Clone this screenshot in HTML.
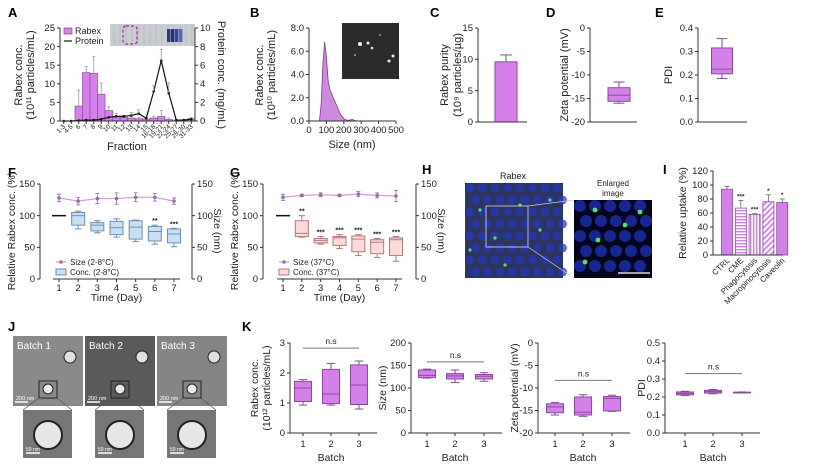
<!DOCTYPE html>
<html><head><meta charset="utf-8"><style>
html,body{margin:0;padding:0;background:#fff;}
svg{display:block;font-family:"Liberation Sans",Arial,sans-serif;}
</style></head><body>
<svg id="fig" width="817" height="468" viewBox="0 0 817 468" xmlns="http://www.w3.org/2000/svg">
<defs>
<pattern id="hstripe" width="4" height="3" patternUnits="userSpaceOnUse"><rect width="4" height="3" fill="#fff"/><rect width="4" height="1.4" fill="#d580ea"/></pattern>
<pattern id="vstripe" width="3" height="4" patternUnits="userSpaceOnUse"><rect width="3" height="4" fill="#fff"/><rect width="1.4" height="4" fill="#d580ea"/></pattern>
<pattern id="dstripe" width="4" height="4" patternUnits="userSpaceOnUse" patternTransform="rotate(45)"><rect width="4" height="4" fill="#fff"/><rect width="1.8" height="4" fill="#d580ea"/></pattern>
</defs>
</svg>
<script>
// ---------- data ----------
const aCats=["1-3","4-5","6","7","8","9","10","11","12","13","14","15","16-18","19-21","22-24","25-27","28-30","31-33"];
const aRabex=[0,0,4,13,12.8,7.2,2.8,1.3,1.0,0.8,0.6,0.5,0.8,1.2,0.4,0.1,0.2,0.6];
const aRabexErr=[0,0,8.3,14.7,17.3,10.2,3.8,2.0,1.5,1.2,1.0,0.8,1.3,2.8,0.8,0.2,0.3,0.9];
const aProtein=[0,0,0.05,0.1,0.1,0.2,0.4,0.5,0.5,0.6,0.8,0.3,3.2,6.5,3.0,0.1,0.1,0.2];
const aProteinErr=[0,0,0.1,0.2,0.2,0.3,0.6,0.7,0.7,0.9,1.2,0.5,3.8,7.7,4.1,0.2,0.2,0.3];
const bSize=[60,70,80,90,100,110,120,140,160,180,200,220,240,250,260,280,300,500];
const bConc=[0,1.5,5,6.8,5.5,3.5,2.7,2.0,1.3,0.6,0.2,0.05,0.1,0.15,0.05,0,0,0];
const cPurity=[9.6]; const cErr=[10.7];
const dZeta=[[-11.5,-12.7,-14.3,-15.6,-16.0]];
const ePdi=[[0.355,0.315,0.225,0.205,0.185]];
const days=[1,2,3,4,5,6,7];
const fSize=[128,123,127,127,129,129,123];
const fSizeErr=[6,6,8,9,7,6,5];
const fBox=[[100,100,100,100,100],[107,105,100,85,79],[92,89,85,76,73],[95,91,81,70,66],[93,92,82,63,59],[85,83,75,60,55],[80,79,71,57,51]];
const fStars=["","","","","","**","***"];
const gSize=[129,132,133,132,134,132,131];
const gSizeErr=[5,2,3,2,4,4,9];
const gBox=[[100,100,100,100,100],[100,92,72,67,66],[67,64,61,57,55],[70,67,65,53,48],[70,68,63,43,37],[64,62,58,40,34],[67,65,62,37,28]];
const gStars=["","**","***","***","***","***","***"];
const iCats=["CTRL","CME","Phagocytosis","Macropinocytosis","Caveolin"];
const iVals=[94,67,58,76,75];
const iErr=[98,78,59,86,80];
const iStars=["","***","***","*","*"];
const batches=[1,2,3];
const k1=[[1.78,1.72,1.5,1.05,0.93],[2.32,2.12,1.3,0.98,0.93],[2.4,2.27,1.6,0.95,0.8]];
const k2=[[142,140,128,123,122],[140,132,127,120,112],[134,130,126,120,115]];
const k3=[[-13.2,-13.5,-14.2,-15.5,-16],[-11.5,-12,-15.4,-16,-16.3],[-11.6,-11.9,-12.3,-15.1,-15.2]];
const k4=[[0.232,0.228,0.22,0.212,0.208],[0.242,0.237,0.23,0.222,0.218],[0.228,0.227,0.225,0.223,0.222]];
const kNs=[2.83,158,-8.3,0.33];

// ---------- helpers ----------
const NS='http://www.w3.org/2000/svg';
const svg=document.getElementById('fig');
function el(tag,attrs,name,parent){
  const e=document.createElementNS(NS,tag);
  for(const k in attrs) e.setAttribute(k,attrs[k]);
  
  
  (parent||svg).appendChild(e);return e;
}
function tx(x,y,s,name,o){o=o||{};
  const e=el('text',{x:x,y:y,'font-size':o.fs||9,'text-anchor':o.a||'middle',fill:o.c||'#222','font-weight':o.b?'bold':'normal'},name);
  if(o.r!==undefined) e.setAttribute('transform','rotate('+o.r+' '+x+' '+y+')');
  e.textContent=s;return e;}
function ln(x1,y1,x2,y2,name,c,w){return el('line',{x1:x1,y1:y1,x2:x2,y2:y2,stroke:c||'#333','stroke-width':w||1},name);}
function lin(d0,d1,r0,r1){return v=>r0+(v-d0)*(r1-r0)/(d1-d0);}
function yAxis(x,sy,ticks,labels,name,right){
  const ys=ticks.map(sy);
  ln(x,Math.min(...ys),x,Math.max(...ys),name+'-line');
  ticks.forEach((t,i)=>{const y=sy(t);
    ln(x,y,right?x+3:x-3,y,name+'-tick');
    tx(right?x+5:x-5,y+3.2,labels[i],name+'-label',{a:right?'start':'end',fs:9.5});});
}
function boxPlot(cx,w,s,sy,fill,stroke,name){
  const g=el('g',{},name);
  el('line',{x1:cx,y1:sy(s[0]),x2:cx,y2:sy(s[1]),stroke:stroke},name+'-whisker',g);
  el('line',{x1:cx,y1:sy(s[3]),x2:cx,y2:sy(s[4]),stroke:stroke},name+'-whisker',g);
  el('line',{x1:cx-w/4,y1:sy(s[0]),x2:cx+w/4,y2:sy(s[0]),stroke:stroke},name+'-cap',g);
  el('line',{x1:cx-w/4,y1:sy(s[4]),x2:cx+w/4,y2:sy(s[4]),stroke:stroke},name+'-cap',g);
  el('rect',{x:cx-w/2,y:sy(s[1]),width:w,height:Math.max(0.8,sy(s[3])-sy(s[1])),fill:fill,stroke:stroke},name+'-box',g);
  el('line',{x1:cx-w/2,y1:sy(s[2]),x2:cx+w/2,y2:sy(s[2]),stroke:stroke},name+'-median',g);
}
const PUR='#d580ea',PURS='#8a4a9a';

// ---------- panel letters ----------
[['A',8,17],['B',250,17],['C',430,17],['D',546,17],['E',655,17],['F',8,177],['G',230,177],['H',422,174],['I',663,174],['J',8,331],['K',242,331]]
.forEach(p=>tx(p[1],p[2],p[0],'panel-label-'+p[0],{fs:13,b:true,a:'start',c:'#000'}));

// ---------- A ----------
(function(){
  const sy=lin(0,25,121,28), sy2=lin(0,10,121,28);
  const x0=60,bw=7.5,cx=i=>x0+bw*(i+0.5);
  el('rect',{x:110,y:24,width:85,height:22,fill:'#c9ccd0'},'gel-inset');
  for(let i=0;i<14;i++) el('line',{x1:114+i*6,y1:25,x2:114+i*6,y2:45,stroke:'#b7bac0','stroke-width':1},'gel-lane');
  [[167,'#2a3a80'],[171,'#1f2f7a'],[175,'#34469a'],[179,'#5a6ab0']].forEach(b=>el('rect',{x:b[0],y:29,width:3.5,height:13,fill:b[1]},'gel-band'));
  el('rect',{x:123,y:26,width:14,height:18,rx:3,fill:'none',stroke:'#b020b0','stroke-width':1.2,'stroke-dasharray':'3,2'},'gel-highlight');
  aRabex.forEach((v,i)=>{ if(v<=0) return;
    el('rect',{x:cx(i)-bw/2,y:sy(v),width:bw,height:sy(0)-sy(v),fill:PUR,stroke:PURS,'stroke-width':0.7},'rabex-bar-'+aCats[i]);
    ln(cx(i),sy(v),cx(i),sy(aRabexErr[i]),'rabex-error','#999',0.8);
    ln(cx(i)-1.5,sy(aRabexErr[i]),cx(i)+1.5,sy(aRabexErr[i]),'rabex-error-cap','#999',0.8);
  });
  let d='';aProtein.forEach((v,i)=>{d+=(i?'L':'M')+cx(i)+','+sy2(v);});
  el('path',{d:d,fill:'none',stroke:'#111','stroke-width':1.2},'protein-line');
  aProtein.forEach((v,i)=>{
    el('circle',{cx:cx(i),cy:sy2(v),r:1.3,fill:'#111'},'protein-point-'+aCats[i]);
    if(aProteinErr[i]>v+0.2){ln(cx(i),sy2(v),cx(i),sy2(aProteinErr[i]),'protein-error','#999',0.8);
      ln(cx(i)-1.5,sy2(aProteinErr[i]),cx(i)+1.5,sy2(aProteinErr[i]),'protein-error-cap','#999',0.8);}
  });
  yAxis(x0,sy,[0,5,10,15,20,25],['0','5','10','15','20','25'],'a-left-axis');
  yAxis(195,sy2,[0,2,4,6,8,10],['0','2','4','6','8','10'],'a-right-axis',true);
  ln(x0,121,195,121,'a-x-axis');
  aCats.forEach((c,i)=>{ln(cx(i),121,cx(i),124,'a-x-tick');tx(cx(i)+2,127,c,'a-x-label',{fs:6.5,a:'end',r:-45});});
  tx(22,75,'Rabex conc.','a-y-title',{fs:11,r:-90});
  tx(34,75,'(10¹¹ particles/mL)','a-y-title',{fs:11,r:-90});
  tx(218,75,'Protein conc. (mg/mL)','a-y2-title',{fs:11,r:90});
  tx(127,150,'Fraction','a-x-title',{fs:11});
  el('rect',{x:64,y:28,width:8,height:6,fill:PUR,stroke:PURS,'stroke-width':0.7},'legend-rabex-swatch');
  tx(75,34,'Rabex','legend-rabex',{a:'start',fs:9});
  ln(64,41,72,41,'legend-protein-swatch','#111',1.2);
  tx(75,44,'Protein','legend-protein',{a:'start',fs:9});
})();

// ---------- B ----------
(function(){
  const sx=lin(0,500,309,396), sy=lin(0,8,121,28);
  el('rect',{x:342,y:23,width:57,height:56,fill:'#2b2b2b'},'nta-image');
  [[360,44,2],[368,43,1.5],[372,48,1.3],[393,56,1.5],[389,61,1.5],[355,55,0.8],[380,35,0.7]].forEach(p=>el('circle',{cx:p[0],cy:p[1],r:p[2],fill:'#eee'},'nta-particle'));
  let d='M'+sx(bSize[0])+','+sy(0);bSize.forEach((s,i)=>{d+='L'+sx(s)+','+sy(bConc[i]);});d+='L'+sx(bSize[bSize.length-1])+','+sy(0)+'Z';
  el('path',{d:d,fill:'#cf8ae0',stroke:'#7a3f8a','stroke-width':0.8},'size-distribution');
  yAxis(309,sy,[0,2,4,6,8],['0.0','2.0','4.0','6.0','8.0'],'b-y-axis');
  ln(309,121,396,121,'b-x-axis');
  [0,100,200,300,400,500].forEach(t=>{ln(sx(t),121,sx(t),124,'b-x-tick');tx(sx(t),133,String(t),'b-x-label',{fs:9.5});});
  tx(263,75,'Rabex conc.','b-y-title',{fs:11,r:-90});
  tx(275,75,'(10¹⁰ particles/mL)','b-y-title',{fs:11,r:-90});
  tx(352,148,'Size (nm)','b-x-title',{fs:11});
})();

// ---------- C ----------
(function(){
  const sy=lin(0,15,122,28);
  el('rect',{x:495,y:sy(cPurity[0]),width:22,height:sy(0)-sy(cPurity[0]),fill:PUR,stroke:PURS},'purity-bar');
  ln(506,sy(cPurity[0]),506,sy(cErr[0]),'purity-error','#666');
  ln(500,sy(cErr[0]),512,sy(cErr[0]),'purity-error-cap','#666');
  yAxis(478,sy,[0,5,10,15],['0','5','10','15'],'c-y-axis');
  ln(478,122,527,122,'c-x-axis');
  tx(448,75,'Rabex purity','c-y-title',{fs:11,r:-90});
  tx(461,75,'(10⁹ particles/µg)','c-y-title',{fs:11,r:-90});
})();

// ---------- D ----------
(function(){
  const sy=lin(0,-20,28,122);
  boxPlot(619,22,dZeta[0],sy,PUR,PURS,'zeta-box');
  yAxis(590,sy,[0,-5,-10,-15,-20],['0','-5','-10','-15','-20'],'d-y-axis');
  ln(590,122,637,122,'d-x-axis');
  tx(568,75,'Zeta potential (mV)','d-y-title',{fs:11,r:-90});
})();

// ---------- E ----------
(function(){
  const sy=lin(0,0.4,122,28);
  boxPlot(722,21,ePdi[0],sy,PUR,PURS,'pdi-box');
  yAxis(698,sy,[0,0.1,0.2,0.3,0.4],['0.0','0.1','0.2','0.3','0.4'],'e-y-axis');
  ln(698,122,747,122,'e-x-axis');
  tx(672,75,'PDI','e-y-title',{fs:11,r:-90});
})();

// ---------- F & G ----------
function stability(p){
  const sy=lin(0,150,p.y1,184), sx=lin(1,7,p.d1,p.d7);
  p.box.forEach((s,i)=>{
    if(i===0){ln(sx(1)-7,sy(100),sx(1)+7,sy(100),p.id+'-baseline','#111',1.5);return;}
    boxPlot(sx(days[i]),13,s,sy,p.fill,p.stroke,p.id+'-box-day'+days[i]);
    if(p.stars[i]) tx(sx(days[i]),sy(s[0])-2,p.stars[i],p.id+'-significance',{fs:7,b:true});
  });
  let d='';p.size.forEach((v,i)=>{d+=(i?'L':'M')+sx(days[i])+','+sy(v);});
  el('path',{d:d,fill:'none',stroke:'#c9a0d8','stroke-width':1.2},p.id+'-size-line');
  p.size.forEach((v,i)=>{
    ln(sx(days[i]),sy(v-p.err[i]),sx(days[i]),sy(v+p.err[i]),p.id+'-size-error','#8a6a98',0.8);
    ln(sx(days[i])-2,sy(v+p.err[i]),sx(days[i])+2,sy(v+p.err[i]),p.id+'-size-cap','#8a6a98',0.8);
    ln(sx(days[i])-2,sy(v-p.err[i]),sx(days[i])+2,sy(v-p.err[i]),p.id+'-size-cap','#8a6a98',0.8);
    el('circle',{cx:sx(days[i]),cy:sy(v),r:1.8,fill:'#9a6aaa'},p.id+'-size-point');
  });
  yAxis(p.ax,sy,[0,50,100,150],['0','50','100','150'],p.id+'-left-axis');
  yAxis(p.ax2,sy,[0,50,100,150],['0','50','100','150'],p.id+'-right-axis',true);
  days.forEach(t=>{ln(sx(t),p.y1,sx(t),p.y1+3,p.id+'-x-tick');tx(sx(t),p.y1+12,String(t),p.id+'-x-label',{fs:9.5});});
  ln(sx(1)-6,p.y1,sx(7)+6,p.y1,p.id+'-x-axis');
  tx(p.ax-25,231,'Relative Rabex conc. (%)','y-title',{fs:10.5,r:-90});
  tx(p.ax2+22,231,'Size (nm)','y2-title',{fs:10.5,r:90});
  tx((sx(1)+sx(7))/2,p.y1+22,'Time (Day)','x-title',{fs:10.5});
  ln(p.ax+16,262,p.ax+26,262,p.id+'-legend-size-swatch','#c9a0d8',1.2);
  el('circle',{cx:p.ax+21,cy:262,r:1.8,fill:'#9a6aaa'},p.id+'-legend-size-dot');
  tx(p.ax+30,265,p.lab1,p.id+'-legend-size',{a:'start',fs:8});
  el('rect',{x:p.ax+16,y:269,width:10,height:6,fill:p.fill,stroke:p.stroke},p.id+'-legend-conc-swatch');
  tx(p.ax+30,275,p.lab2,p.id+'-legend-conc',{a:'start',fs:8});
}
stability({id:'f',y1:279,d1:59,d7:174,ax:40,ax2:192,box:fBox,stars:fStars,size:fSize,err:fSizeErr,fill:'#c8dff5',stroke:'#6f8ea8',lab1:'Size (2-8°C)',lab2:'Conc. (2-8°C)'});
stability({id:'g',y1:279,d1:283,d7:396,ax:263,ax2:416,box:gBox,stars:gStars,size:gSize,err:gSizeErr,fill:'#fddada',stroke:'#b07a7a',lab1:'Size (37°C)',lab2:'Conc. (37°C)'});

// ---------- H ----------
(function(){
  el('rect',{x:465,y:183,width:98,height:95,fill:'#2c3560'},'confocal-image');
  el('rect',{x:574,y:200,width:78,height:78,fill:'#03051a'},'enlarged-image');
  for(let r=0;r<8;r++)for(let c=0;c<8;c++){
    el('circle',{cx:470+c*12.5+(r%2)*5,cy:188+r*12,r:4.5,fill:'#2438b8',opacity:0.75},'nucleus');
  }
  for(let r=0;r<5;r++)for(let c=0;c<5;c++){
    el('circle',{cx:580+c*15+(r%2)*6,cy:206+r*15,r:6,fill:'#1a2ca8',opacity:0.85},'nucleus-enlarged');
  }
  [[480,210],[495,238],[520,205],[540,230],[470,250],[505,265],[550,200]].forEach(p=>el('circle',{cx:p[0],cy:p[1],r:1.6,fill:'#5ae060'},'rabex-signal'));
  [[595,210],[640,212],[598,240],[625,225],[585,262]].forEach(p=>el('circle',{cx:p[0],cy:p[1],r:2.4,fill:'#5ae060'},'rabex-signal-enlarged'));
  el('rect',{x:486,y:206,width:42,height:41,fill:'none',stroke:'#ddd','stroke-width':0.8},'zoom-region');
  ln(528,206,574,200,'zoom-connector','#ccc',0.7);ln(528,247,574,278,'zoom-connector','#ccc',0.7);
  ln(618,273,650,273,'scale-bar','#fff',1.2);
  tx(513,179,'Rabex','h-title',{fs:9});
  tx(613,186,'Enlarged','h-enlarged-title',{fs:8});
  tx(613,196,'image','h-enlarged-title',{fs:8});
})();

// ---------- I ----------
(function(){
  const sy=lin(0,120,255,171), cx=i=>727+i*13.8, fills=[PUR,'url(#hstripe)','url(#vstripe)','url(#dstripe)',PUR];
  iVals.forEach((v,i)=>{
    el('rect',{x:cx(i)-5.5,y:sy(v),width:11,height:sy(0)-sy(v),fill:fills[i],stroke:PURS,'stroke-width':0.8},'uptake-bar-'+iCats[i]);
    ln(cx(i),sy(v),cx(i),sy(iErr[i]),'uptake-error','#666',0.8);
    ln(cx(i)-2.5,sy(iErr[i]),cx(i)+2.5,sy(iErr[i]),'uptake-error-cap','#666',0.8);
    if(iStars[i]) tx(cx(i),sy(iErr[i])-2,iStars[i],'uptake-significance',{fs:6.5,b:true});
    tx(cx(i)+3,261,iCats[i],'i-x-label',{fs:8,a:'end',r:-45});
  });
  yAxis(713,sy,[0,20,40,60,80,100,120],['0','20','40','60','80','100','120'],'i-y-axis');
  ln(713,255,783,255,'i-x-axis');
  tx(686,213,'Relative uptake  (%)','i-y-title',{fs:10.5,r:-90});
})();

// ---------- J ----------
(function(){
  const tops=[[13,'#8a8a8a','Batch 1'],[85,'#5a5a5a','Batch 2'],[157,'#858585','Batch 3']];
  tops.forEach((t,k)=>{
    el('rect',{x:t[0],y:336,width:70,height:70,fill:t[1]},'tem-image-batch'+(k+1));
    tx(t[0]+4,349,t[2],'tem-batch-label',{a:'start',fs:10,c:'#fff'});
    el('circle',{cx:t[0]+35,cy:389,r:5,fill:'#e8e8e8',stroke:'#222'},'tem-vesicle');
    el('circle',{cx:t[0]+57,cy:357,r:6,fill:'#e0e0e0',stroke:'#222'},'tem-vesicle');
    el('rect',{x:t[0]+26,y:381,width:18,height:17,fill:'none',stroke:'#222'},'tem-zoom-box');
    ln(t[0]+2,402,t[0]+15,402,'tem-scale-bar','#fff',1.5);
    tx(t[0]+3,400,'200 nm','tem-scale-label',{a:'start',fs:5.5,c:'#fff'});
    ln(t[0]+26,398,t[0]+10,410,'tem-connector','#555',0.7);ln(t[0]+44,398,t[0]+59,410,'tem-connector','#555',0.7);
    el('rect',{x:t[0]+10,y:410,width:49,height:48,fill:'#767676'},'tem-enlarged-batch'+(k+1));
    el('circle',{cx:t[0]+35,cy:435,r:14,fill:'#e6e6e6',stroke:'#222','stroke-width':2},'tem-vesicle-enlarged');
    ln(t[0]+13,453,t[0]+27,453,'tem-enlarged-scale','#fff',1.5);
    tx(t[0]+13,451,'50 nm','tem-enlarged-scale-label',{a:'start',fs:5,c:'#fff'});
  });
})();

// ---------- K ----------
function kPanel(o){
  const sy=lin(o.min,o.max,433,343);
  o.data.forEach((s,i)=>boxPlot(o.cx[i],17,s,sy,PUR,PURS,o.id+'-box-batch'+batches[i]));
  ln(o.cx[0],sy(o.ns),o.cx[2],sy(o.ns),o.id+'-ns-line','#777');
  tx((o.cx[0]+o.cx[2])/2,sy(o.ns)-4,'n.s','ns-label',{fs:8.5});
  yAxis(o.ax,sy,o.ticks,o.labels,o.id+'-y-axis');
  ln(o.ax,433,o.cx[2]+18,433,o.id+'-x-axis');
  batches.forEach((b,i)=>{ln(o.cx[i],433,o.cx[i],436,o.id+'-x-tick');tx(o.cx[i],447,String(b),o.id+'-x-label',{fs:9.5});});
  tx(o.cx[1],461,'Batch','x-title',{fs:10.5});
  o.titles.forEach((t,j)=>tx(o.tx+j*12,388,t,o.id+'-y-title',{fs:10.5,r:-90}));
}
kPanel({id:'k1',ax:290,cx:[303,331,359],min:0,max:3,ticks:[0,1,2,3],labels:['0','1','2','3'],data:k1,ns:kNs[0],titles:['Rabex conc.','(10¹² particles/mL)'],tx:258});
kPanel({id:'k2',ax:411,cx:[427,455,484],min:0,max:200,ticks:[0,50,100,150,200],labels:['0','50','100','150','200'],data:k2,ns:kNs[1],titles:['Size (nm)'],tx:386});
kPanel({id:'k3',ax:538,cx:[555,583,612],min:-20,max:0,ticks:[-20,-15,-10,-5,0],labels:['-20','-15','-10','-5','0'],data:k3,ns:kNs[2],titles:['Zeta potential (mV)'],tx:518});
kPanel({id:'k4',ax:665,cx:[685,713,742],min:0,max:0.5,ticks:[0,0.1,0.2,0.3,0.4,0.5],labels:['0.0','0.1','0.2','0.3','0.4','0.5'],data:k4,ns:kNs[3],titles:['PDI'],tx:645});
</script>
</body></html>
